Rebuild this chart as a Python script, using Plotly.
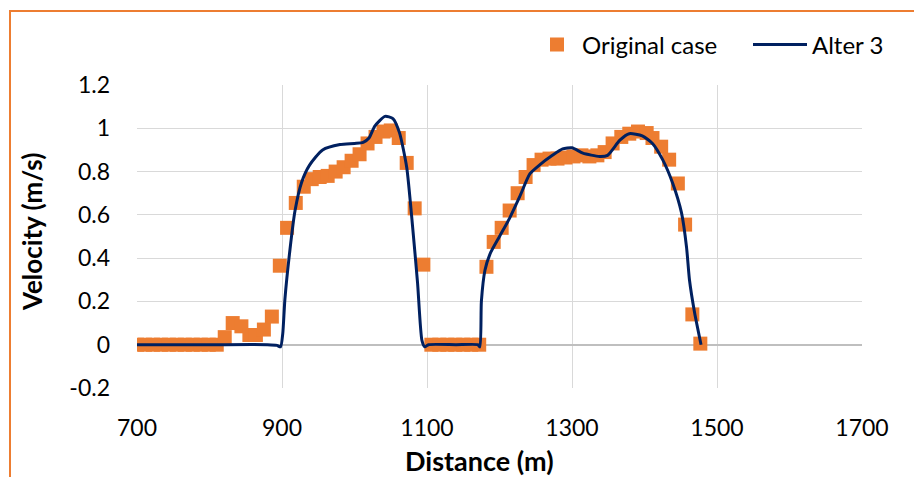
import plotly.graph_objects as go

# Original case (orange squares)
orig_distance = [700, 711, 722, 733, 744, 755, 766, 777, 788, 799, 810,
                 821, 832, 844, 855, 864, 875, 886, 897, 907, 919, 930, 941,
                 952, 963, 974, 985, 996, 1007, 1018, 1029, 1040, 1050, 1061,
                 1072, 1083, 1095, 1106, 1117, 1128, 1139, 1150, 1161, 1172,
                 1182, 1192, 1203, 1214, 1225, 1236, 1247, 1258, 1269, 1280,
                 1291, 1302, 1313, 1324, 1335, 1345, 1356, 1368, 1379, 1391,
                 1403, 1411, 1423, 1434, 1446, 1456, 1466, 1477]
orig_velocity = [0, 0, 0, 0, 0, 0, 0, 0, 0, 0, 0,
                 0.035, 0.10, 0.085, 0.045, 0.045, 0.07, 0.13, 0.365, 0.54,
                 0.655, 0.73, 0.765, 0.775, 0.78, 0.80, 0.82, 0.85, 0.88, 0.93,
                 0.96, 0.985, 0.99, 0.955, 0.84, 0.63, 0.37, 0, 0, 0, 0, 0, 0,
                 0, 0.36, 0.475, 0.54, 0.62, 0.70, 0.775, 0.83, 0.855, 0.86,
                 0.86, 0.865, 0.87, 0.875, 0.87, 0.875, 0.89, 0.93, 0.96, 0.975,
                 0.985, 0.978, 0.955, 0.915, 0.855, 0.745, 0.555, 0.14, 0.005]

# Alter 3 (navy line)
alt_distance = [700, 800, 880, 893, 898, 901, 904, 911, 918, 927, 938, 956,
                980, 1000, 1012, 1020, 1028, 1042, 1053, 1062, 1072, 1080,
                1087, 1093, 1097, 1102, 1140, 1170, 1173, 1175, 1180, 1187,
                1200, 1214, 1228, 1242, 1255, 1273, 1287, 1300, 1315, 1338,
                1349, 1366, 1379, 1397, 1411, 1425, 1439, 1451, 1458, 1462,
                1469, 1478]
alt_velocity = [0, 0, 0, -0.003, -0.01, 0.05, 0.21, 0.44, 0.62, 0.75, 0.83,
                0.90, 0.925, 0.93, 0.935, 0.955, 1.01, 1.055, 1.045, 0.98,
                0.82, 0.55, 0.285, 0.02, -0.01, 0, 0, 0, -0.01, 0.2, 0.345,
                0.42, 0.50, 0.585, 0.685, 0.79, 0.83, 0.875, 0.905, 0.91,
                0.885, 0.87, 0.875, 0.945, 0.975, 0.965, 0.93, 0.855, 0.745,
                0.61, 0.45, 0.30, 0.15, 0.0]

x_ticks = [700, 900, 1100, 1300, 1500, 1700]
y_ticks = [-0.2, 0, 0.2, 0.4, 0.6, 0.8, 1, 1.2]
y_tick_text = ["-0.2", "0", "0.2", "0.4", "0.6", "0.8", "1", "1.2"]

FONT = "Lato"
ORANGE = "#ED7D31"
NAVY = "#002060"

fig = go.Figure()
fig.add_trace(go.Scatter(
    x=orig_distance, y=orig_velocity, mode="markers", name="Original case",
    marker=dict(symbol="square", size=14, color=ORANGE, line=dict(width=0)),
    legend="legend",
))
fig.add_trace(go.Scatter(
    x=alt_distance, y=alt_velocity, mode="lines", name="Alter 3",
    line=dict(color=NAVY, width=3, shape="spline", smoothing=0.6),
    legend="legend2",
))

L, R, T, B = 137, 52, 85, 89
W, H = 914, 477
pw, ph = W - L - R, H - T - B

def px_x(p):
    return (p - L) / pw

def px_y(p):
    return (H - B - p) / ph

fig.update_layout(
    width=W, height=H,
    margin=dict(l=L, r=R, t=T, b=B, pad=0),
    paper_bgcolor="white", plot_bgcolor="white",
    font=dict(family=FONT, size=23, color="#000000"),
    showlegend=True,
    legend=dict(orientation="h", x=px_x(532), y=px_y(45), xanchor="left",
                yanchor="middle", font=dict(family=FONT, size=24),
                bgcolor="rgba(0,0,0,0)", itemwidth=40),
    legend2=dict(orientation="h", x=px_x(748), y=px_y(45), xanchor="left",
                 yanchor="middle", font=dict(family=FONT, size=24),
                 bgcolor="rgba(0,0,0,0)", itemwidth=54),
    xaxis=dict(range=[700, 1700], tickvals=x_ticks, showgrid=True,
               gridcolor="#D9D9D9", gridwidth=1, zeroline=False,
               showline=False, ticks="", ticklabelstandoff=24,
               tickfont=dict(family=FONT, size=23)),
    yaxis=dict(range=[-0.2, 1.2], tickvals=y_ticks, ticktext=y_tick_text,
               showgrid=True, gridcolor="#D9D9D9", gridwidth=1,
               zeroline=True, zerolinecolor="#BFBFBF", zerolinewidth=2,
               showline=False, ticks="", ticklabelstandoff=26,
               tickfont=dict(family=FONT, size=23)),
    annotations=[
        dict(text="<b>Distance (m)</b>", xref="paper", yref="paper",
             x=px_x(479), y=px_y(460), xanchor="center", yanchor="middle",
             showarrow=False, font=dict(family=FONT, size=27)),
        dict(text="<b>Velocity (m/s)</b>", xref="paper", yref="paper",
             x=px_x(32), y=px_y(232), xanchor="center", yanchor="middle",
             textangle=-90, showarrow=False, font=dict(family=FONT, size=26)),
    ],
    shapes=[
        dict(type="rect", xref="paper", yref="paper",
             x0=px_x(10), y0=px_y(600), x1=px_x(1000), y1=px_y(11),
             line=dict(color=ORANGE, width=2), fillcolor="rgba(0,0,0,0)",
             layer="below"),
    ],
)

fig.write_html("out.html")
